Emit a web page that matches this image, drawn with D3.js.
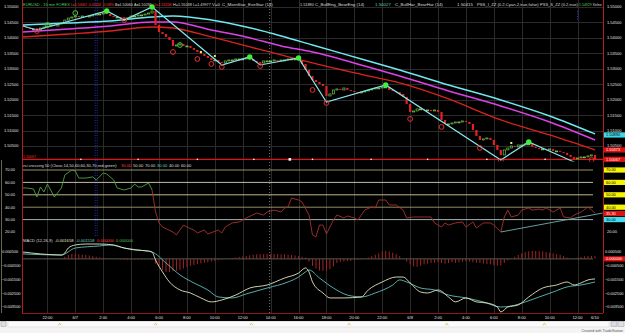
<!DOCTYPE html>
<html><head><meta charset="utf-8">
<script src="https://cdn.jsdelivr.net/npm/d3@7"></script>
<style>html,body{margin:0;padding:0;background:#000;overflow:hidden}svg{display:block}text{font-family:"Liberation Sans",Arial,sans-serif}</style>
</head><body><svg id="c" width="625" height="333"></svg>
<script>
// ---------------- DATA ----------------
const open0 = 1.54385;
const closes = [
1.54353,1.54320,1.54288,1.54288,1.54256,1.54320,1.54353,1.54385,1.54418,1.54385,
1.54450,1.54482,1.54579,1.54644,1.54676,1.54709,1.54676,1.54709,1.54676,1.54709,
1.54741,1.54773,1.54773,1.54806,1.54773,1.54709,1.54676,1.54676,1.54644,1.54612,
1.54644,1.54709,1.54709,1.54741,1.54741,1.54773,1.54806,1.54871,1.54418,1.54191,
1.54126,1.54029,1.53932,1.53738,1.53770,1.53803,1.53738,1.53738,1.53673,1.53609,
1.53544,1.53479,1.53414,1.53350,1.53285,1.53285,1.53220,1.53188,1.53253,1.53285,
1.53285,1.53317,1.53317,1.53317,1.53350,1.53317,1.53253,1.53220,1.53188,1.53253,
1.53253,1.53253,1.53285,1.53253,1.53285,1.53285,1.53317,1.53317,1.53317,1.53285,
1.53156,1.52961,1.52767,1.52638,1.52573,1.52508,1.52444,1.52120,1.52185,1.52314,
1.52347,1.52314,1.52379,1.52314,1.52282,1.52249,1.52217,1.52249,1.52282,1.52314,
1.52347,1.52379,1.52379,1.52411,1.52411,1.52314,1.52282,1.52249,1.52185,1.52088,
1.51861,1.51602,1.51634,1.51699,1.51699,1.51667,1.51667,1.51634,1.51667,1.51602,
1.51343,1.51214,1.51214,1.51246,1.51278,1.51278,1.51311,1.51278,1.51214,1.51020,
1.50826,1.50696,1.50729,1.50761,1.50696,1.50534,1.50373,1.50211,1.50373,1.50437,
1.50502,1.50470,1.50534,1.50534,1.50567,1.50567,1.50470,1.50437,1.50405,1.50405,
1.50373,1.50405,1.50340,1.50340,1.50308,1.50276,1.50211,1.50146,1.50082,1.50114,
1.50146,1.50146,1.50179,1.50211,1.50067];

const maBars    = [0,13,25,37,43,54,64,74,83,99,108,122,137,151,164];
const maCyan    = [1.54418,1.54482,1.54547,1.54676,1.54709,1.54579,1.54353,1.54062,1.53770,1.53253,1.52961,1.52476,1.51991,1.51473,1.50890];
const maMagenta = [1.54191,1.54288,1.54385,1.54515,1.54515,1.54256,1.54029,1.53738,1.53544,1.53058,1.52767,1.52282,1.51796,1.51279,1.50696];
const maRed     = [1.54029,1.54126,1.54223,1.54353,1.54320,1.54029,1.53738,1.53447,1.53188,1.52767,1.52541,1.52023,1.51343,1.50858,1.50373];

const zzBars   = [0,4,24,29,37,57,65,68,79,87,104,137,145,158];
const zzPrices = [1.54385,1.54256,1.54871,1.54579,1.55000,1.53123,1.53382,1.53123,1.53350,1.51926,1.52476,1.50049,1.50631,1.49984];
const highDotBars   = [24,37,65,79,104,145];
const highDotPrices = [1.54871,1.55000,1.53382,1.53350,1.52476,1.50631];
const redCircBars   = [4,29,43,50,54,57,68,83,87,111,120,131,137,163];
const redCircPrices = [1.54223,1.54579,1.53544,1.53317,1.53156,1.53059,1.53091,1.52314,1.51893,1.51376,1.51117,1.50437,1.50017,1.50049];
const greenCircBars   = [7,15,45];
const greenCircPrices = [1.54418,1.54806,1.53770];
const yellowSqBars   = [51,55,140];
const yellowSqPrices = [1.53479,1.53350,1.50534];
const lastPrice = 1.50067;
const lastLineDots = [16.6,33,50,66.2,83,99.8,116,133,149.7];

const priceTicks = [1.505,1.510,1.515,1.520,1.525,1.530,1.535,1.540,1.545,1.550];

const rsiBars = [0,1,3,4,5,6,7,9,11,12,14,15,16,18,20,21,23,24,26,27,28,29,31,32,33,34,36,37,38,39,40,43,44,46,47,49,50,52,53,56,57,58,60,62,64,67,69,70,72,74,75,76,77,79,80,82,83,84,85,86,87,89,90,92,93,95,96,98,100,101,102,104,105,107,109,110,112,113,115,117,118,120,121,122,124,126,127,129,130,132,134,135,137,138,139,140,142,143,145,146,148,149,150,152,154,155,157,158,160,162,163,164];
const rsiVals = [55.5,55.5,54.7,48.2,56.3,52.3,58.7,48.2,55.5,66,70,69.2,63.5,63.5,64.4,61.9,67.6,66.8,61.9,55.5,54.7,53.9,55.5,58.7,56.3,56.3,59.5,53.9,36.1,27.3,24,20,17.6,25.6,24,21.6,19.2,21.6,18.4,21.6,19.2,24,27.3,28.1,31.3,35.3,33.7,36.1,37.7,36.1,39.4,40.2,47.4,45.8,44.2,33.7,17.6,16,25.6,25.6,18.4,29.7,33.7,31.3,32.9,31.3,29.7,37.7,40.2,39.4,45.8,45.8,41.8,41.8,37.7,31.3,32.1,32.1,32.1,32.1,27.3,24,27.3,25.6,27.3,28.1,24,28.1,23.2,27.3,27.3,25.6,20,32.1,37.7,32.1,33.7,37.7,39.4,37.7,38.5,37.7,39.4,36.1,39.4,32.1,31.3,33.7,36.1,40.2,37.7,35.3];
const rsiGreenUntil = 37;
const rsiLevels = [70,60,50,40,30];
const rsiTicks = [20,30,40,50,60,70];
const rsiTrendBars = [137,166.2];
const rsiTrendVals = [20,35.3];

const macdBars = [0,5,11,12,13,15,18,22,26,29,32,36,37,38,40,42,45,48,51,54,57,61,65,70,75,79,81,82,83,86,88,92,97,99,103,107,109,111,114,116,119,122,124,127,130,133,136,137,139,142,145,149,153,156,158,160,162,164];
const macdVals = [0.00050,0.00036,0.00028,0.00043,0.00079,0.00101,0.00108,0.00108,0.00101,0.00079,0.00065,0.00057,0.00050,-0.00008,-0.00095,-0.00168,-0.00226,-0.00248,-0.00284,-0.00313,-0.00299,-0.00263,-0.00212,-0.00190,-0.00139,-0.00103,-0.00066,-0.00095,-0.00168,-0.00248,-0.00284,-0.00284,-0.00277,-0.00226,-0.00168,-0.00132,-0.00132,-0.00175,-0.00241,-0.00248,-0.00226,-0.00277,-0.00313,-0.00284,-0.00313,-0.00321,-0.00350,-0.00386,-0.00350,-0.00335,-0.00277,-0.00212,-0.00190,-0.00168,-0.00190,-0.00175,-0.00153,-0.00146];
const sigBars = [0,11,15,22,25,29,33,37,41,45,49,53,56,60,64,70,76,79,81,82,85,89,93,97,101,106,108,110,114,118,122,127,132,137,140,144,148,152,156,160,164];
const sigVals = [0.00036,0.00028,0.00079,0.00094,0.00101,0.00079,0.00065,0.00050,-0.00030,-0.00117,-0.00175,-0.00226,-0.00277,-0.00284,-0.00255,-0.00212,-0.00168,-0.00132,-0.00095,-0.00081,-0.00139,-0.00212,-0.00263,-0.00277,-0.00248,-0.00190,-0.00153,-0.00168,-0.00212,-0.00226,-0.00263,-0.00284,-0.00313,-0.00350,-0.00343,-0.00313,-0.00277,-0.00241,-0.00204,-0.00190,-0.00168];
const hist = [
0.00002,0.00002,0.00001,0.00001,0,0.00001,0.00001,0,0.00001,0.00002,0.00003,0.00005,
0.00015,0.00030,0.00036,0.00036,0.00033,0.00030,0.00028,0.00025,0.00020,0.00015,
0.00010,0.00008,0.00006,0.00005,0.00003,0.00002,
-0.00005,-0.00007,-0.00008,-0.00008,-0.00007,-0.00006,-0.00006,-0.00005,-0.00004,
-0.00010,-0.00035,-0.00050,-0.00080,-0.00095,-0.00095,-0.00090,-0.00087,-0.00080,-0.00070,-0.00060,-0.00050,-0.00045,-0.00038,-0.00033,-0.00028,-0.00024,-0.00020,-0.00015,-0.00010,-0.00006,-0.00003,
0.00002,0.00006,0.00010,0.00014,0.00018,0.00022,0.00026,0.00030,0.00033,0.00033,0.00035,0.00036,0.00035,0.00036,0.00035,0.00033,0.00033,0.00030,0.00028,0.00025,0.00020,0.00015,0.00010,
-0.00020,-0.00050,-0.00070,-0.00085,-0.00087,-0.00087,-0.00075,-0.00055,-0.00030,-0.00022,-0.00020,-0.00018,-0.00015,-0.00012,-0.00008,-0.00004,
0.00002,0.00010,0.00020,0.00030,0.00040,0.00055,0.00058,0.00055,0.00045,0.00035,0.00020,0.00005,
-0.00020,-0.00040,-0.00055,-0.00058,-0.00050,-0.00040,-0.00035,-0.00030,-0.00028,-0.00022,-0.00030,-0.00035,-0.00030,-0.00025,-0.00028,-0.00025,-0.00020,-0.00018,-0.00020,-0.00025,-0.00028,-0.00030,-0.00035,-0.00038,-0.00040,-0.00045,-0.00050,-0.00048,-0.00030,-0.00010,
0.00002,0.00015,0.00028,0.00040,0.00050,0.00055,0.00058,0.00058,0.00056,0.00055,0.00050,0.00045,0.00040,0.00035,0.00030,0.00020,0.00010,0.00005,0.00003,0.00008,0.00014,0.00018,0.00020,0.00022,0.00020];
const macdTicks = [0.0005,-0.0005,-0.0015,-0.0025,-0.0035];

const timeTickBars   = [7,15,23,31,39,47,55,63,71,79,87,95,103,111,119,127,135,143,151,159,164];
const timeTickLabels = ["22:00","6/7","2:00","4:00","6:00","8:00","10:00","12:00","14:00","16:00","18:00","20:00","22:00","6/8","2:00","4:00","6:00","8:00","10:00","12:00","6/10"];
const sessionBar = 21, markerBar = 71;
const scrollMarkBars = [10.5,38,65.5,93.5,121.5,149.5];

const header = [
 ["EURUSD - 15 min  FOREX",23,"#4fd04f"],["L=1.50062",71,"#ff3a3a"],["-0.03184",88,"#ff3a3a"],
 ["-2.08%",102,"#ff3a3a"],["B=1.50060",115,"#dddddd"],["A=1.50291",134,"#dddddd"],
 ["O=1.53236",153,"#ff3a3a"],["H=1.55038",173,"#dddddd"],["L=1.49977",193,"#dddddd"],
 ["V=0",212,"#dddddd"],["C_MornStar_EveStar (14)",222,"#dddddd"],["1.51880",300,"#dddddd"],
 ["C_BullEng_BearEng (14)",315,"#dddddd"],["1.50027",375,"#5fd8a0"],["C_BullHar_BearHar (14)",395,"#dddddd"],
 ["1.50415",457,"#dddddd"],["PSS_I_ZZ (0.2,Cyan,2,true,false)",477,"#dddddd"],["PSS_S_ZZ (0.2,true)",540,"#dddddd"],
 ["1.54929",579,"#4fd04f"],["Keltne",593,"#dddddd"]];
const rsiTitle = [["rsi crossing 50 (Close,14,50,60,60,30,70,red,green)",23,"#dddddd"],["30.00",121,"#ff3a3a"],["50.00",133,"#dddddd"],["70.00",145,"#dddddd"],["30.00",157,"#60d0d0"],["40.00",169,"#dddddd"],["60.00",181,"#dddddd"]];
const macdTitle = [["MACD (12,26,9)",23,"#dddddd"],["-0.001658",55,"#e6e6c0"],["-0.001558",76,"#70d0d0"],["0.000000",97,"#ff3a3a"],["0.000000",116,"#4fc04f"]];

// ---------------- SETUP ----------------
const svg = d3.select("#c");
svg.append("rect").attr("width",625).attr("height",333).attr("fill","#000");
const L = 22, R = 603;
const x  = d3.scaleLinear().domain([0,164]).range([23,595]);
const yP = d3.scaleLinear().domain([1.505,1.55]).range([146,7]);
const yR = d3.scaleLinear().domain([20,70]).range([232,170]);
const yM = d3.scaleLinear().domain([-0.0035,0.0005]).range([307,252]);
const defs = svg.append("defs");
defs.append("clipPath").attr("id","cp").append("rect").attr("x",L).attr("y",0).attr("width",R-L).attr("height",161.5);
defs.append("clipPath").attr("id","cm").append("rect").attr("x",L).attr("y",237).attr("width",R-L).attr("height",76);

// fit a row of texts so none runs into the next
function textRow(items, y, f0, endX){
  items.forEach((t,i)=>{
    const next = i < items.length-1 ? items[i+1][1] : endX;
    const maxW = next - t[1] - 1.2;
    const el = svg.append("text").attr("x",t[1]).attr("y",y).attr("font-size",f0).attr("fill",t[2]).text(t[0]);
    const w = el.node().getComputedTextLength();
    if (w > maxW) el.attr("font-size", f0*maxW/w);
  });
}

// grid
const g0 = svg.append("g");
g0.selectAll(".vg").data(timeTickBars.slice(0,-1)).join("line")
  .attr("x1",d=>Math.round(x(d))+0.5).attr("x2",d=>Math.round(x(d))+0.5).attr("y1",0).attr("y2",313)
  .attr("stroke","#2b2b2b").attr("stroke-width",1);
g0.selectAll(".hg").data(priceTicks).join("line")
  .attr("x1",L).attr("x2",R).attr("y1",d=>Math.round(yP(d))+0.5).attr("y2",d=>Math.round(yP(d))+0.5)
  .attr("stroke","#2b2b2b");
[-1,1].forEach(o=>g0.append("line").attr("x1",x(sessionBar)+o).attr("x2",x(sessionBar)+o).attr("y1",0).attr("y2",236)
  .attr("stroke","#2230a0").attr("stroke-dasharray","1,1.5"));
g0.append("line").attr("x1",x(markerBar)-1).attr("x2",x(markerBar)-1).attr("y1",0).attr("y2",313)
  .attr("stroke","#777").attr("stroke-dasharray","1,2");
g0.append("line").attr("x1",x(159)).attr("x2",x(159)).attr("y1",11).attr("y2",21)
  .attr("stroke","#2840c0").attr("stroke-dasharray","1,1.5");

// ---------------- PRICE PANEL ----------------
const gp = svg.append("g").attr("clip-path","url(#cp)");
const maLine = d3.line().x((d,i)=>x(maBars[i])).y(d=>yP(d)).curve(d3.curveMonotoneX);
gp.append("path").attr("d",maLine(maRed)).attr("fill","none").attr("stroke","#d8231e").attr("stroke-width",1.3);
gp.append("path").attr("d",maLine(maMagenta)).attr("fill","none").attr("stroke","#e040e8").attr("stroke-width",1.5);
gp.append("path").attr("d",maLine(maCyan)).attr("fill","none").attr("stroke","#70e8f0").attr("stroke-width",1.5);

gp.append("line").attr("x1",L).attr("x2",R).attr("y1",yP(lastPrice)).attr("y2",yP(lastPrice))
  .attr("stroke","#d81818").attr("stroke-width",1.2);
gp.selectAll(".ld").data(lastLineDots).join("circle").attr("cx",d=>x(d)).attr("cy",yP(lastPrice)).attr("r",0.8).attr("fill","#fff");
gp.append("rect").attr("x",x(76.5)-1.3).attr("y",yP(lastPrice)-1.3).attr("width",2.6).attr("height",2.6).attr("fill","#fff");

const cd = closes.map((c,i)=>({i, o: i ? closes[i-1] : open0, c}));
const bw = 2.2;
gp.selectAll(".cd").data(cd).join("rect")
  .attr("x",d=>x(d.i)-bw/2)
  .attr("y",d=>yP(Math.max(d.o,d.c)))
  .attr("width",bw)
  .attr("height",d=>Math.max(0.9,Math.abs(yP(d.o)-yP(d.c))))
  .attr("fill",d=>d.c<d.o ? "#e52222" : "none")
  .attr("stroke",d=>d.c<d.o ? "none" : (d.c===d.o ? "#9ad060" : "#6fbf48"))
  .attr("stroke-width",0.7);

const zz = d3.line().x((d,i)=>x(zzBars[i])).y(d=>yP(d));
gp.append("path").attr("d",zz(zzPrices)).attr("fill","none").attr("stroke","#86e6ee").attr("stroke-width",1.2);
gp.selectAll(".rc").data(redCircPrices).join("circle").attr("cx",(d,i)=>x(redCircBars[i])).attr("cy",d=>yP(d))
  .attr("r",2.4).attr("fill","none").attr("stroke","#e83030").attr("stroke-width",1);
gp.selectAll(".gc").data(greenCircPrices).join("circle").attr("cx",(d,i)=>x(greenCircBars[i])).attr("cy",d=>yP(d))
  .attr("r",2.4).attr("fill","none").attr("stroke","#46c846").attr("stroke-width",1);
gp.selectAll(".hd").data(highDotPrices).join("circle").attr("cx",(d,i)=>x(highDotBars[i])).attr("cy",d=>yP(d))
  .attr("r",2.7).attr("fill","#3cf03c");
gp.selectAll(".ys").data(yellowSqPrices).join("rect").attr("x",(d,i)=>x(yellowSqBars[i])-1).attr("y",d=>yP(d)-3)
  .attr("width",2).attr("height",2).attr("fill","#f0f070");
svg.append("text").attr("x",23).attr("y",157.5).attr("font-size",3.6).attr("fill","#e03030").text(lastPrice.toFixed(5));

textRow(header, 6.3, 4.4, 603);

const fmtP = d3.format(".5f");
svg.selectAll(".pl").data(priceTicks).join("text").attr("x",4).attr("y",d=>yP(d)+1.4).attr("font-size",4)
  .attr("fill","#e0e0e0").text(d=>fmtP(d));
svg.selectAll(".pr").data(priceTicks).join("text").attr("x",607).attr("y",d=>yP(d)+1.4).attr("font-size",4)
  .attr("fill","#e0e0e0").text(d=>fmtP(d));
function box(yv, txt, bg, fg){
  svg.append("rect").attr("x",604).attr("y",yv-2.6).attr("width",21).attr("height",5.2).attr("fill",bg);
  svg.append("text").attr("x",606).attr("y",yv+1.4).attr("font-size",3.9).attr("fill",fg).text(txt);
}
box(yP(maCyan[maCyan.length-1])+1, fmtP(maCyan[maCyan.length-1]), "#40d8e8", "#000");
box(yP(maRed[maRed.length-1]), fmtP(maRed[maRed.length-1]), "#e01010", "#fff");
box(yP(lastPrice), fmtP(lastPrice), "#e01010", "#fff");

// ---------------- RSI PANEL ----------------
const levelColors = ["#a8a070","#d8d4b0","#d0cca0","#a09870","#b0c4c4"];
svg.selectAll(".lv").data(rsiLevels).join("line").attr("x1",L).attr("x2",593)
  .attr("y1",d=>yR(d)).attr("y2",d=>yR(d)).attr("stroke",(d,i)=>levelColors[i]).attr("stroke-width",0.9);
const rl = d3.line().x(d=>x(d[0])).y(d=>yR(d[1]));
const rsiPts = rsiBars.map((b,i)=>[b,rsiVals[i]]);
svg.append("path").attr("d",rl(rsiPts.filter(p=>p[0]<=rsiGreenUntil))).attr("fill","none").attr("stroke","#4fa040").attr("stroke-width",0.9);
svg.append("path").attr("d",rl(rsiPts.filter(p=>p[0]>=rsiGreenUntil))).attr("fill","none").attr("stroke","#a8322c").attr("stroke-width",0.9);
svg.append("path").attr("d",rl(rsiTrendBars.map((b,i)=>[b,rsiTrendVals[i]]))).attr("fill","none").attr("stroke","#70b0b0").attr("stroke-width",0.9);
textRow(rsiTitle, 167.3, 4.1, 195);
const f2 = d3.format(".2f");
svg.selectAll(".rlab").data(rsiTicks).join("text").attr("x",5).attr("y",d=>yR(d)+1.4).attr("font-size",4).attr("fill","#e0e0e0").text(d=>f2(d));
[70,60,50,40].forEach(v=>box(yR(v), f2(v), "#f8f400", "#000"));
box(yR(rsiVals[rsiVals.length-1])+0.6, f2(rsiVals[rsiVals.length-1]), "#e01010", "#fff");
box(yR(30), "30.00", "#40e0f0", "#000");
svg.append("text").attr("x",607).attr("y",yR(20)+1.4).attr("font-size",4).attr("fill","#e0e0e0").text("20.00");

// ---------------- MACD PANEL ----------------
const gm = svg.append("g").attr("clip-path","url(#cm)");
gm.append("line").attr("x1",L).attr("x2",593).attr("y1",yM(0)).attr("y2",yM(0)).attr("stroke","#5a6a5a").attr("stroke-width",0.9);
gm.selectAll(".hb").data(hist).join("line").attr("x1",(d,i)=>x(i)).attr("x2",(d,i)=>x(i))
  .attr("y1",yM(0)).attr("y2",d=>yM(d)).attr("stroke","#a02424").attr("stroke-width",1);
const ml = d3.line().x(d=>x(d[0])).y(d=>yM(d[1])).curve(d3.curveMonotoneX);
gm.append("path").attr("d",ml(sigBars.map((b,i)=>[b,sigVals[i]]))).attr("fill","none").attr("stroke","#60c0c0").attr("stroke-width",0.9);
gm.append("path").attr("d",ml(macdBars.map((b,i)=>[b,macdVals[i]]))).attr("fill","none").attr("stroke","#e6e6c0").attr("stroke-width",0.9);
textRow(macdTitle, 242, 4.1, 136);
const f6 = d3.format(".6f");
svg.selectAll(".mlab").data(macdTicks).join("text").attr("x",2).attr("y",d=>yM(d)+1.4).attr("font-size",3.9).attr("fill","#e0e0e0").text(d=>f6(d));
svg.selectAll(".mr").data(macdTicks).join("text").attr("x",605).attr("y",d=>yM(d)+1.4).attr("font-size",3.9).attr("fill","#e0e0e0").text(d=>f6(d));
box(yM(0), "0.000000", "#e01010", "#fff");

// ---------------- FRAME ----------------
svg.append("line").attr("x1",L+0.5).attr("x2",L+0.5).attr("y1",0).attr("y2",313).attr("stroke","#b02020");
svg.append("line").attr("x1",R+0.5).attr("x2",R+0.5).attr("y1",0).attr("y2",313).attr("stroke","#b02020");
svg.append("line").attr("x1",L).attr("x2",R).attr("y1",313.5).attr("y2",313.5).attr("stroke","#901818");
svg.append("line").attr("x1",1.5).attr("x2",1.5).attr("y1",160).attr("y2",313).attr("stroke","#6a6450");

svg.selectAll(".tx").data(timeTickBars).join("text").attr("x",d=>x(d)).attr("y",319.3).attr("text-anchor","middle")
  .attr("font-size",4).attr("fill","#e0e0e0").text((d,i)=>timeTickLabels[i]);

svg.append("rect").attr("x",0).attr("y",321).attr("width",625).attr("height",12).attr("fill","#f4f4f4");
svg.append("rect").attr("x",8).attr("y",321.5).attr("width",601).attr("height",5.5).attr("fill","#fbfbfb").attr("stroke","#d0d0d0").attr("stroke-width",0.5);
svg.append("rect").attr("x",1).attr("y",321.5).attr("width",5).attr("height",5).attr("fill","#e0e0e0").attr("stroke","#999").attr("stroke-width",0.5);
svg.append("rect").attr("x",611).attr("y",321.5).attr("width",6).attr("height",5).attr("fill","#d8dce8").attr("stroke","#999").attr("stroke-width",0.5);
svg.append("rect").attr("x",618).attr("y",321.5).attr("width",6).attr("height",5).attr("fill","#e0e0e0").attr("stroke","#999").attr("stroke-width",0.5);
svg.selectAll(".sm").data(scrollMarkBars).join("path")
  .attr("d",d=>`M${x(d)-1.5},${325.5}L${x(d)},${323}L${x(d)+1.5},${325.5}`).attr("fill","none").attr("stroke","#e0c020").attr("stroke-width",0.7);
svg.append("text").attr("x",623).attr("y",332).attr("text-anchor","end").attr("font-size",3.6).attr("fill","#555").text("Created with TradeStation");
</script></body></html>
